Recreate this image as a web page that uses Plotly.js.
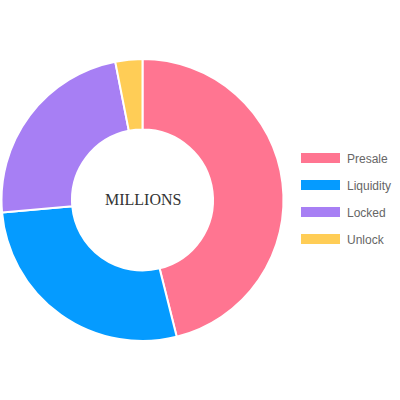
<!DOCTYPE html>
<html>
<head>
<meta charset="utf-8">
<script src="https://cdn.plot.ly/plotly-3.0.1.min.js"></script>
<style>html,body{margin:0;padding:0;background:#fff;}#chart{width:400px;height:400px;}</style>
</head>
<body>
<div id="chart"></div>
<script>
const labels = ["Presale", "Liquidity", "Locked", "Unlock"];
const values = [46.1, 27.5, 23.3, 3.1];
const colors = ["#ff7591", "#059bff", "#a77ff4", "#ffcd56"];
const centerLabel = "MILLIONS";

const trace = {
  type: "pie",
  labels: labels,
  values: values,
  hole: 0.5,
  sort: false,
  direction: "clockwise",
  rotation: 0,
  textinfo: "none",
  hoverinfo: "label+value",
  marker: {colors: colors, line: {color: "#ffffff", width: 2}},
  domain: {x: [0.00375, 0.70875], y: [0.1475, 0.8525]},
  showlegend: false
};

const shapes = [];
const annotations = [{
  text: centerLabel, x: 0.35625, y: 0.5025, xref: "paper", yref: "paper",
  showarrow: false, xanchor: "center", yanchor: "middle",
  font: {family: "Liberation Serif, Times New Roman, serif", size: 16, color: "#333"}
}];
const legTop = 158, legStep = 27;
labels.forEach((lab, i) => {
  const yc = legTop + i * legStep;
  shapes.push({type: "rect", xref: "paper", yref: "paper",
    x0: 301/400, x1: 340/400, y0: 1 - (yc + 5)/400, y1: 1 - (yc - 5)/400,
    fillcolor: colors[i], line: {width: 0}});
  annotations.push({text: lab, xref: "paper", yref: "paper", x: 345/400, y: 1 - (yc + 1)/400,
    xanchor: "left", yanchor: "middle", showarrow: false,
    font: {family: "Liberation Sans, Arial, sans-serif", size: 12, color: "#666"}});
});

Plotly.newPlot("chart", [trace], {
  width: 400, height: 400,
  margin: {l: 0, r: 0, t: 0, b: 0},
  paper_bgcolor: "#fff",
  shapes: shapes,
  annotations: annotations
}, {displayModeBar: false, staticPlot: true});
</script>
</body>
</html>
